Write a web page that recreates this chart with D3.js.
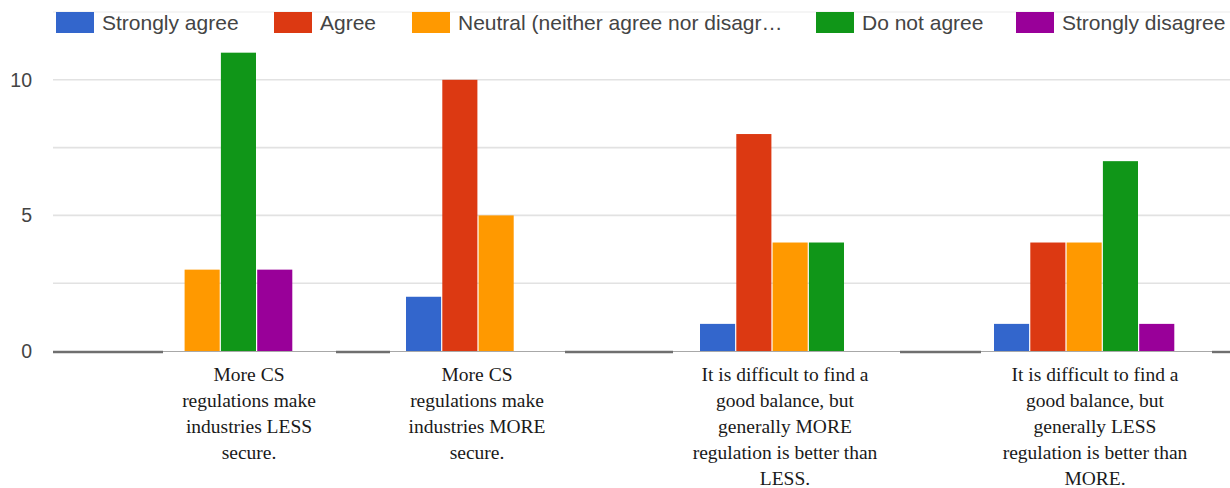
<!DOCTYPE html>
<html>
<head>
<meta charset="utf-8">
<script src="https://cdn.jsdelivr.net/npm/d3@7"></script>
<style>
  html, body { margin: 0; padding: 0; background: #fff; }
  svg { display: block; }
</style>
</head>
<body>
<svg id="chart" width="1230" height="488"></svg>
<script>
// Survey answers per statement (counts of respondents)
const categories = [
  ["More CS", "regulations make", "industries LESS", "secure."],
  ["More CS", "regulations make", "industries MORE", "secure."],
  ["It is difficult to find a", "good balance, but", "generally MORE", "regulation is better than", "LESS."],
  ["It is difficult to find a", "good balance, but", "generally LESS", "regulation is better than", "MORE."]
];
const seriesNames = [
  "Strongly agree",
  "Agree",
  "Neutral (neither agree nor disagr\u2026",
  "Do not agree",
  "Strongly disagree"
];
const stronglyAgree    = [0, 2, 1, 1];
const agree            = [0, 10, 8, 4];
const neutral          = [3, 5, 4, 4];
const doNotAgree       = [11, 0, 4, 7];
const stronglyDisagree = [3, 0, 0, 1];
const yTickLabels = [0, 5, 10];

const seriesValues = [stronglyAgree, agree, neutral, doNotAgree, stronglyDisagree];
const colors = ["#3366cc", "#dc3912", "#ff9900", "#109618", "#990099"];

const svg = d3.select("#chart");
const W = 1230;

const plot = { left: 53, right: 1229, top: 12, bottom: 351 };

const y = d3.scaleLinear().domain([0, 12.5]).range([plot.bottom, plot.top]);
const catIdx = categories.map((_, i) => i);
const x0 = d3.scaleBand().domain(catIdx).range([plot.left, plot.right]).padding(0);
const groupInset = 59;
const groupWidth = 181.5;
const x1 = d3.scaleBand().domain(d3.range(seriesNames.length)).range([0, groupWidth]).padding(0);

// gridlines
const gridVals = d3.range(0, 12.5 + 0.001, 2.5);
svg.append("g").selectAll("line")
  .data(gridVals.filter(v => v > 0 && v < 12.5))
  .join("line")
  .attr("x1", plot.left).attr("x2", W)
  .attr("y1", d => y(d)).attr("y2", d => y(d))
  .attr("stroke", "#e2e2e2").attr("stroke-width", 1.6);

// y tick labels
svg.append("g").selectAll("text")
  .data(yTickLabels)
  .join("text")
  .attr("x", 32).attr("y", d => y(d))
  .attr("dy", "0.36em")
  .attr("text-anchor", "end")
  .attr("font-family", "'Liberation Sans', Arial, sans-serif")
  .attr("font-size", 19.5)
  .attr("fill", "#444")
  .text(d => d);

// baseline
svg.append("line")
  .attr("x1", plot.left).attr("x2", W)
  .attr("y1", y(0) + 0.5).attr("y2", y(0) + 0.5)
  .attr("stroke", "#a8a8a8").attr("stroke-width", 1.2);

// heavier baseline pieces between the label blocks
const baseSegments = [[53, 163], [336, 390], [565, 673], [900, 981], [1212, 1230]];
svg.append("g").selectAll("line")
  .data(baseSegments)
  .join("line")
  .attr("x1", d => d[0]).attr("x2", d => d[1])
  .attr("y1", y(0) + 1).attr("y2", y(0) + 1)
  .attr("stroke", "#6f6f6f").attr("stroke-width", 2.4);

// bars
const bars = [];
catIdx.forEach(ci => {
  seriesValues.forEach((vals, si) => {
    if (vals[ci] > 0) bars.push({ ci, si, v: vals[ci] });
  });
});
svg.append("g").selectAll("rect")
  .data(bars)
  .join("rect")
  .attr("x", d => x0(d.ci) + groupInset + x1(d.si))
  .attr("width", x1.bandwidth() - 1.2)
  .attr("y", d => y(d.v))
  .attr("height", d => y(0) - y(d.v))
  .attr("fill", d => colors[d.si]);

// category labels
const labelNudge = [49, -17, -3, 13];
const lineH = 26;
const firstBaseline = 381;
const labelG = svg.append("g")
  .attr("font-family", "'Liberation Serif', 'Times New Roman', serif")
  .attr("font-size", 19.5)
  .attr("fill", "#1a1a1a")
  .attr("text-anchor", "middle");
categories.forEach((lines, ci) => {
  const cx = x0(ci) + x0.bandwidth() / 2 + labelNudge[ci];
  const t = labelG.append("text").attr("x", cx).attr("y", firstBaseline);
  lines.forEach((ln, li) => {
    t.append("tspan").attr("x", cx).attr("y", firstBaseline + li * lineH).text(ln);
  });
});

// top light rule behind legend
svg.append("line")
  .attr("x1", plot.left).attr("x2", W)
  .attr("y1", y(12.5)).attr("y2", y(12.5))
  .attr("stroke", "#ececec").attr("stroke-width", 1.2);

// legend
const legendTextX = [102, 320, 458, 862, 1062];
const legend = svg.append("g");
seriesNames.forEach((name, i) => {
  const tx = legendTextX[i];
  legend.append("rect")
    .attr("x", tx - 46).attr("y", 12)
    .attr("width", 38).attr("height", 21)
    .attr("fill", colors[i]);
  legend.append("text")
    .attr("x", tx).attr("y", 30)
    .attr("font-family", "'Liberation Sans', Arial, sans-serif")
    .attr("font-size", 21)
    .attr("fill", "#444")
    .text(name);
});
</script>
</body>
</html>
